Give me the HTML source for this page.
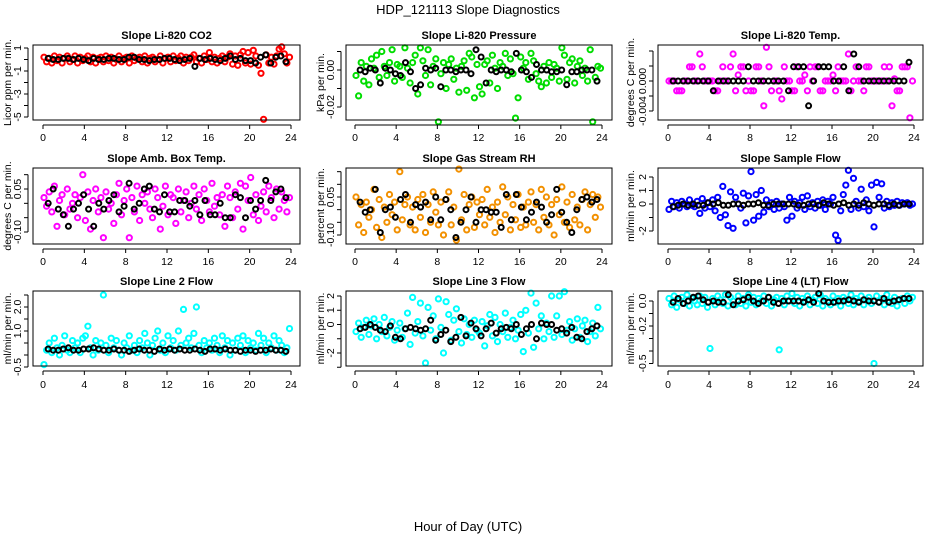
<!DOCTYPE html>
<html><head><meta charset="utf-8"><style>
html,body{margin:0;padding:0;background:#fff;}
svg{display:block;font-family:"Liberation Sans",sans-serif;}
</style></head><body>
<svg id="chart" width="936" height="540" viewBox="0 0 936 540" xmlns="http://www.w3.org/2000/svg">
<text x="468" y="14" text-anchor="middle" font-size="13">HDP_121113  Slope Diagnostics</text>
<text x="468" y="531" text-anchor="middle" font-size="13">Hour of Day (UTC)</text>
</svg>
<script>
// ---- data ----
const xTicks = [0,4,8,12,16,20,24];
const U=0.0019, L=-0.0013;
const co2Color = [0.2,-0.2,0.1,-0.3,0.3,-0.1,0.2,-0.3,0.1,0.3,-0.2,0.0,0.3,-0.3,0.2,-0.1,0.1,0.3,-0.2,0.2,-0.3,0.1,0.2,-0.2,
0.3,-0.1,0.2,-0.3,0.0,0.3,-0.2,0.1,0.2,-0.3,0.3,-0.1,0.1,0.2,-0.2,0.3,-0.3,0.1,0.2,-0.2,0.0,0.3,-0.3,0.1,
0.2,-0.2,0.3,-0.1,0.1,0.3,-0.3,0.2,-0.1,0.2,0.4,-0.2,0.1,-0.3,0.3,0.0,0.6,-0.2,0.2,-0.3,0.1,0.3,-0.2,0.2,
0.5,-0.4,0.3,-0.5,0.4,0.7,-0.3,0.6,-0.4,0.8,0.3,-0.5,-1.2,-5.2,0.4,-0.3,0.2,-0.4,0.3,0.9,1.1,0.5,-0.3,0.2];
const co2Black = [0.1,0.0,0.0,0.1,0.1,0.0,0.1,0.0,-0.1,0.1,0.0,0.0,0.1,0.1,0.0,0.0,0.2,0.2,0.0,0.0,-0.1,0.0,0.0,0.1,0.1,0.0,-0.1,0.0,0.1,-0.6,0.1,0.0,0.1,0.0,-0.1,0.1,0.3,0.0,0.1,-0.1,-0.1,-0.3,0.2,0.4,-0.3,0.2,0.3,-0.2];
const presColor = [-0.003,-0.014,0.004,-0.006,0.002,-0.008,0.006,0.001,0.008,-0.004,0.010,0.002,-0.003,0.004,0.011,-0.006,0.003,0.002,-0.004,0.012,0.001,-0.007,0.004,0.008,
-0.013,0.012,0.005,-0.003,0.011,-0.008,0.002,0.006,-0.028,-0.002,0.004,-0.010,0.003,0.006,-0.005,0.001,-0.012,0.002,0.005,-0.011,0.009,0.007,-0.015,0.003,
-0.009,-0.013,0.003,0.005,-0.007,0.008,0.001,-0.010,0.004,0.002,0.009,-0.003,0.006,-0.002,-0.026,-0.015,0.007,0.001,0.004,-0.005,0.009,0.005,-0.002,-0.006,
-0.009,0.002,-0.007,0.004,-0.004,0.003,0.001,-0.006,0.012,0.008,-0.005,0.004,0.006,-0.007,0.002,0.005,-0.003,0.001,-0.006,0.011,-0.028,-0.004,0.002,0.001];
const presBlack = [0,-0.001,0.001,0,-0.007,0.001,0,-0.002,-0.003,0.004,-0.001,-0.010,-0.008,0.001,0,0.001,-0.009,0,0,-0.001,0,0,-0.002,0.011,0.007,-0.007,0,-0.001,0,0,-0.001,0.009,0,-0.001,-0.004,0.003,0,0,-0.001,-0.001,0,-0.008,-0.001,-0.001,0,0,0,-0.006];
const tempColor = [0,0,0,L,L,L,0,0,U,U,0,0,0.0036,U,0,0,0,0,L,L,0,U,0,0,
U,0.0036,L,0.0008,U,U,L,0,L,L,U,U,0,-0.0033,0.0045,U,L,0,0,L,-0.0024,U,0,0,
L,L,U,0,0,0.0008,L,U,0,U,U,L,L,0,0,0,0.0008,L,U,0,0,0,0.0036,L,
0,U,0,0,L,U,U,0,0,0,0,0,U,0,U,-0.0033,0.0003,L,L,U,U,U,-0.0049,0];
const tempBlack = [0,0,0,0,0,0,0,0,L,0,0,0,0,0,0,U,0,0,0,0,0,0,0,L,U,U,U,-0.0033,0,U,U,U,0,0,U,L,0.0036,U,0,0,0,0,0,0,0,0,0,0.0025];
const ambColor = [0.02,-0.01,0.04,-0.03,0.06,-0.08,0.01,0.03,-0.04,0.05,-0.02,0.00,0.03,-0.05,0.02,0.10,-0.06,0.04,-0.09,0.01,0.05,-0.03,0.02,-0.12,
0.04,-0.02,0.00,-0.07,0.03,0.07,-0.04,0.01,0.05,-0.12,0.02,-0.03,0.06,-0.06,0.03,0.00,0.04,-0.02,-0.05,0.05,0.02,-0.09,-0.01,0.06,
-0.04,0.03,0.02,-0.07,0.05,-0.03,0.01,0.04,-0.05,0.00,0.06,-0.02,0.03,-0.06,0.05,0.01,-0.03,0.07,-0.01,0.02,-0.04,0.03,-0.08,0.06,
0.02,-0.05,0.04,-0.02,0.07,-0.09,0.06,0.01,0.09,-0.04,0.03,-0.06,-0.01,0.04,-0.03,0.06,0.02,-0.05,0.05,-0.02,0.04,0.01,-0.03,0.02];
const ambBlack = [0.00,0.05,-0.02,-0.04,-0.08,-0.02,0.00,0.03,-0.02,-0.08,0.00,-0.02,0.01,0.03,-0.03,-0.01,0.07,-0.02,0.00,0.05,0.06,-0.02,-0.03,0.03,-0.03,-0.03,0.01,0.01,-0.01,0.01,-0.04,0.01,-0.04,-0.04,0.00,-0.05,-0.05,0.03,0.02,-0.05,0.01,-0.02,0.01,0.08,0.01,0.04,0.05,0.02];
const rhColor = [0.05,-0.06,0.02,-0.09,0.03,-0.03,0.00,0.08,-0.07,0.04,-0.11,0.01,-0.05,0.06,-0.02,0.03,-0.08,0.15,-0.04,0.02,0.05,-0.06,0.01,-0.08,
0.04,-0.03,0.06,-0.09,0.02,-0.05,0.07,-0.01,-0.06,0.03,-0.10,0.04,0.07,-0.06,0.01,-0.12,0.16,-0.04,0.06,-0.08,0.02,0.05,-0.07,0.03,
-0.02,0.04,-0.06,0.08,-0.03,0.01,-0.09,0.03,-0.05,0.09,-0.02,0.05,-0.08,0.02,-0.04,0.06,-0.07,0.01,-0.06,0.03,0.07,-0.05,0.02,-0.08,
0.08,-0.03,0.05,-0.06,0.02,-0.10,0.04,-0.02,0.09,-0.05,0.03,-0.07,0.06,-0.04,0.01,-0.06,0.04,0.07,-0.08,0.02,0.06,-0.03,0.05,0.01];
const rhBlack = [0.03,-0.01,0.00,0.08,-0.09,0.00,0.01,-0.03,0.04,0.06,-0.05,0.02,0.01,0.03,-0.04,0.05,-0.04,0.04,0.00,-0.11,-0.05,0.00,0.05,-0.05,0.00,0.00,-0.01,-0.01,-0.07,0.06,-0.04,0.06,0.01,-0.04,-0.01,0.03,0.01,-0.05,-0.02,0.08,-0.01,-0.05,-0.09,0.00,0.04,0.05,0.03,0.04];
const sampColor = [-0.4,0.2,-0.2,0.1,-0.3,0.2,0.0,-0.2,0.3,-0.1,-0.2,0.2,-0.7,0.4,-0.3,0.1,-0.2,0.3,-0.5,0.5,-1.0,1.3,-0.8,-1.6,
0.9,-1.8,0.5,0.0,-0.3,0.8,-1.4,0.6,2.4,-1.2,0.7,-0.9,1.0,-0.6,0.3,-0.2,0.1,-0.4,0.2,-0.3,0.0,-0.2,-1.2,0.5,
-0.9,0.2,-0.3,0.1,0.5,-0.4,0.6,-0.2,0.1,-0.3,0.2,-0.1,0.3,-0.4,0.2,0.0,0.5,-2.3,-2.7,-0.5,0.7,1.4,2.5,-0.4,
1.9,0.2,-0.3,1.1,-0.2,0.3,-0.5,1.4,-1.7,1.6,0.5,1.5,-0.3,0.2,-0.2,0.1,-0.1,0.2,-0.1,0.1,0.0,0.1,-0.1,0.0];
const sampBlack = [-0.2,-0.1,0.0,-0.1,0.0,-0.1,-0.1,0.1,0.0,0.1,-0.1,-0.1,0,0,-0.1,0.0,0.0,0.1,-0.1,-0.1,0,0,0,0,0.0,-0.1,-0.1,0,0.0,-0.1,0.1,0,-0.1,0,0.1,-0.1,0,-0.1,0.1,0,-0.1,0,0,-0.1,0,-0.1,0,0.0];
const l2Color = [-0.4,0.2,0.5,0.1,0.7,0.3,0.0,0.4,0.8,0.2,0.1,0.6,0.3,0.5,0.1,0.7,0.8,1.2,0.3,0.0,0.6,0.2,0.5,2.5,
0.4,0.1,0.7,0.3,0.6,0.2,0.0,0.5,0.3,0.8,0.2,0.4,0.1,0.6,0.3,0.9,0.5,0.0,0.4,0.7,1.0,0.2,0.5,0.1,
0.8,0.3,0.6,0.2,1.0,0.4,1.9,0.5,0.7,0.3,0.9,2.0,0.4,0.1,0.6,0.3,0.5,0.2,0.7,0.4,0.1,0.8,0.3,0.6,
0.0,0.5,0.2,0.7,0.4,0.8,0.1,0.6,0.3,0.5,0.2,0.9,0.4,0.7,0.1,0.5,0.3,0.8,0.2,0.6,0.4,0.1,0.3,1.1];
const l2Black = [0.25,0.2,0.2,0.25,0.3,0.2,0.2,0.25,0.25,0.3,0.25,0.2,0.2,0.25,0.2,0.2,0.15,0.2,0.25,0.2,0.2,0.15,0.25,0.2,0.25,0.2,0.25,0.2,0.2,0.25,0.2,0.15,0.25,0.25,0.2,0.25,0.2,0.2,0.15,0.2,0.2,0.15,0.2,0.2,0.25,0.2,0.2,0.15];
const l3Color = [-0.5,0.1,-0.9,-0.2,0.3,-0.7,-0.1,0.4,-1.0,0.0,-0.5,0.5,-0.8,-0.2,0.2,-1.1,-0.4,0.1,-0.9,-0.3,0.8,-1.4,1.9,-0.6,
0.2,1.5,-0.8,-2.7,1.2,-0.4,0.6,-1.0,1.8,-0.2,-2.0,1.6,0.7,-1.1,0.3,1.1,-0.5,-1.3,0.4,-0.7,0.0,-0.9,0.3,-0.4,
-0.6,0.2,-1.5,-0.1,0.7,-0.8,0.5,-1.2,0.0,-0.5,0.8,-0.9,-0.2,0.3,-1.0,-0.4,0.7,-1.9,1.0,-0.6,2.2,-1.6,1.5,-0.3,
0.6,-1.0,0.1,-0.5,2.0,-0.9,0.6,2.0,-0.7,2.3,-0.4,0.2,-1.1,-0.3,0.4,-0.9,-0.1,0.3,-1.2,-0.5,0.1,-0.8,1.2,-0.3];
const l3Black = [-0.3,-0.2,0.0,-0.2,-0.4,-0.5,-0.1,-0.9,-1.0,-0.3,-0.2,-0.3,-0.4,-0.3,0.3,-1.1,-0.7,-0.4,-1.2,-0.9,0.5,-0.8,0.1,-0.3,-0.8,-0.3,0.1,-0.6,-0.3,-0.2,-0.3,0.0,-0.7,-0.3,0.0,-1.0,0.1,0.0,0.0,-0.4,-0.3,-0.6,-0.2,-0.9,-1.0,-0.5,-0.3,-0.1];
const l4Color = [0.02,-0.03,0.04,-0.05,0.01,0.03,-0.02,0.05,-0.04,0.02,0.00,-0.03,0.04,-0.02,0.03,-0.05,-0.38,0.02,-0.03,0.04,0.01,-0.02,0.05,-0.04,
0.03,0.00,-0.03,0.04,-0.02,0.02,-0.04,0.05,-0.01,0.03,-0.03,0.02,0.00,0.04,-0.02,0.03,-0.04,0.01,0.03,-0.39,0.02,-0.03,0.04,0.00,
0.06,-0.02,0.03,-0.04,0.02,0.00,0.04,-0.03,0.01,0.03,-0.02,0.05,-0.04,0.02,0.00,-0.03,0.04,-0.01,0.02,-0.04,0.03,0.01,-0.02,0.05,
-0.03,0.02,0.00,0.04,-0.03,0.01,0.03,-0.02,-0.50,0.04,-0.01,0.02,-0.03,0.05,0.00,-0.02,0.03,-0.04,0.01,0.02,-0.02,0.04,0.00,0.03];
const l4Black = [-0.01,0.02,-0.02,0.00,0.03,0.04,0.01,-0.01,0.00,-0.01,-0.01,0.05,-0.03,0.00,0.01,0.03,0.00,-0.02,0.00,0.03,-0.01,-0.02,0.00,0.00,0.00,0.00,-0.01,0.01,-0.01,0.06,0.00,-0.01,-0.01,0.00,0.00,0.01,0.00,-0.01,0.01,0.00,0.00,-0.01,0.02,-0.01,0.00,0.01,0.02,0.02];

const yTicks1=[1,0,-1,-2,-3,-4,-5], yLab1=["1","-1","-3","-5"], yLabV1=[1,-1,-3,-5];
const yTicks2=[0.01,0,-0.01,-0.02], yLab2=["0.00","-0.02"], yLabV2=[0,-0.02];
const yTicks3=[0.004,0.002,0,-0.002,-0.004], yLab3=["0.000","-0.004"], yLabV3=[0,-0.004];
const yTicks4=[0.1,0.05,0,-0.05,-0.1], yLab4=["0.05","-0.10"], yLabV4=[0.05,-0.1];
const yTicks5=[0.15,0.1,0.05,0,-0.05,-0.1], yLab5=["0.05","-0.10"], yLabV5=[0.05,-0.1];
const yTicks6=[2,1,0,-1,-2], yLab6=["2","1","0","-2"], yLabV6=[2,1,0,-2];
const yTicks7=[2.5,2,1.5,1,0.5,0,-0.5], yLab7=["2.0","1.0","-0.5"], yLabV7=[2,1,-0.5];
const yTicks8=[2,1,0,-1,-2,-3], yLab8=["2","1","0","-2"], yLabV8=[2,1,0,-2];
const yTicks9=[0,-0.1,-0.2,-0.3,-0.4,-0.5], yLab9=["0.0","-0.2","-0.5"], yLabV9=[0,-0.2,-0.5];

// ---- layout ----
const cols=[{l:33,r:300,x0:43,x24:291,yt:7},{l:346,r:612,x0:355,x24:602,yt:320},{l:658,r:923,x0:668,x24:914,yt:630}];
const rows=[{t:45,b:120,xl:141},{t:168,b:244,xl:265},{t:291,b:366,xl:388}];
const panels=[
 {name:"co2",title:"Slope Li-820 CO2",ylab:"Licor ppm per min.",c:0,r:0,col:"#ff0000",cal:[1,48,-5,117],col1:co2Color,blk:co2Black,ticks:yTicks1,labs:yLab1,labv:yLabV1},
 {name:"pressure",title:"Slope Li-820 Pressure",ylab:"kPa per min.",c:1,r:0,col:"#00dd00",cal:[0,70,-0.02,107],col1:presColor,blk:presBlack,ticks:yTicks2,labs:yLab2,labv:yLabV2},
 {name:"temp",title:"Slope Li-820 Temp.",ylab:"degrees C per min.",c:2,r:0,col:"#ff00ff",cal:[0,81,-0.004,111],col1:tempColor,blk:tempBlack,ticks:yTicks3,labs:yLab3,labv:yLabV3},
 {name:"amb-box-temp",title:"Slope Amb. Box Temp.",ylab:"degrees C per min.",c:0,r:1,col:"#ff00ff",cal:[0.05,189,-0.1,232],col1:ambColor,blk:ambBlack,ticks:yTicks4,labs:yLab4,labv:yLabV4},
 {name:"gas-rh",title:"Slope Gas Stream RH",ylab:"percent per min.",c:1,r:1,col:"#f29000",cal:[0.05,197,-0.1,235],col1:rhColor,blk:rhBlack,ticks:yTicks5,labs:yLab5,labv:yLabV5},
 {name:"sample-flow",title:"Slope Sample Flow",ylab:"ml/min per min.",c:2,r:1,col:"#0000ff",cal:[2,177,-2,231],col1:sampColor,blk:sampBlack,ticks:yTicks6,labs:yLab6,labv:yLabV6},
 {name:"line2-flow",title:"Slope Line 2 Flow",ylab:"ml/min per min.",c:0,r:2,col:"#00ffff",cal:[2,307,1,331],col1:l2Color,blk:l2Black,ticks:yTicks7,labs:yLab7,labv:yLabV7},
 {name:"line3-flow",title:"Slope Line 3 Flow",ylab:"ml/min per min.",c:1,r:2,col:"#00ffff",cal:[2,296,-2,353],col1:l3Color,blk:l3Black,ticks:yTicks8,labs:yLab8,labv:yLabV8},
 {name:"line4-flow",title:"Slope Line 4 (LT) Flow",ylab:"ml/min per min.",c:2,r:2,col:"#00ffff",cal:[0,301,-0.2,326],col1:l4Color,blk:l4Black,ticks:yTicks9,labs:yLab9,labv:yLabV9}
];
const NS="http://www.w3.org/2000/svg";
const svg=document.getElementById('chart');
function mk(tag,attrs,parent,txt){const e=document.createElementNS(NS,tag);for(const k in attrs)e.setAttribute(k,attrs[k]);if(txt!==undefined)e.textContent=txt;parent.appendChild(e);return e;}
panels.forEach(p=>{
  const C=cols[p.c],R=rows[p.r];
  const xs=h=>C.x0+(C.x24-C.x0)*h/24;
  const ys=v=>p.cal[1]+(v-p.cal[0])*(p.cal[3]-p.cal[1])/(p.cal[2]-p.cal[0]);
  const g=mk('g',{},svg);
  
  
  const t=mk('text',{x:(C.l+C.r)/2,y:R.t-6,'text-anchor':'middle','font-size':11,'font-weight':'bold'},g,p.title);
  
  
  const yl=mk('text',{x:0,y:0,'text-anchor':'middle','font-size':10.5,transform:`translate(${C.yt+4},${(R.t+R.b)/2}) rotate(-90)`},g,p.ylab);
  
  
  const pts=mk('g',{fill:'none','stroke-width':2},g);
  
  
  p.col1.forEach((v,i)=>{
    const c=mk('circle',{cx:xs(0.1+i*24/p.col1.length).toFixed(1),cy:ys(v).toFixed(1),r:2.6,stroke:p.col},pts);
    
    
  });
  p.blk.forEach((v,i)=>{
    const c=mk('circle',{cx:xs(0.5+i*23.5/p.blk.length).toFixed(1),cy:ys(v).toFixed(1),r:2.5,stroke:'#000'},pts);
    
    
  });
  const box=mk('rect',{x:C.l,y:R.t,width:C.r-C.l,height:R.b-R.t,fill:'none',stroke:'#000','stroke-width':1},g);
  
  
  const ax=mk('g',{stroke:'#000','stroke-width':1},g);
  
  
  mk('line',{x1:C.x0,x2:C.x24,y1:R.b+5,y2:R.b+5},ax);
  xTicks.forEach(h=>{
    mk('line',{x1:xs(h),x2:xs(h),y1:R.b+5,y2:R.b+9},ax);
    const tx=mk('text',{x:xs(h),y:R.xl,'text-anchor':'middle','font-size':10.5,stroke:'none'},ax,String(h));
    
    
  });
  const y1=ys(p.ticks[0]),y2=ys(p.ticks[p.ticks.length-1]);
  mk('line',{x1:C.l-5,x2:C.l-5,y1:y1,y2:y2},ax);
  p.ticks.forEach(v=>mk('line',{x1:C.l-9,x2:C.l-5,y1:ys(v),y2:ys(v)},ax));
  p.labs.forEach((s,i)=>{
    const y=ys(p.labv[i]);
    const tl=mk('text',{x:0,y:0,'text-anchor':'middle','font-size':10.5,stroke:'none',transform:`translate(${C.l-12},${y}) rotate(-90)`},ax,s);
    
    
  });
});
</script>
</body></html>
